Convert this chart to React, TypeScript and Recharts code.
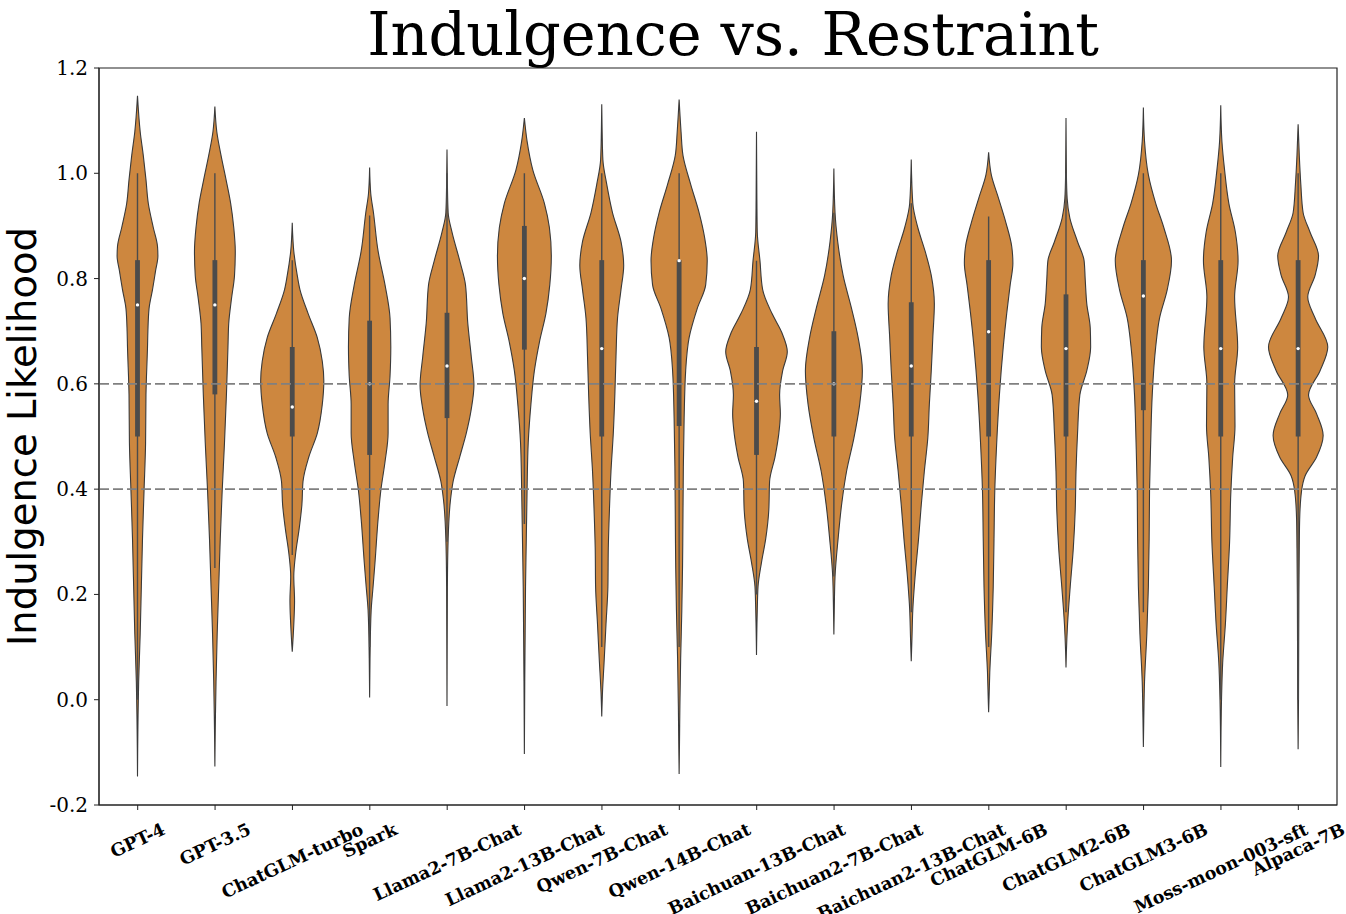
import { Bar, ComposedChart, Curve, ReferenceArea, ReferenceLine, XAxis, YAxis } from 'recharts'

const models = [
  'GPT-4',
  'GPT-3.5',
  'ChatGLM-turbo',
  'Spark',
  'Llama2-7B-Chat',
  'Llama2-13B-Chat',
  'Qwen-7B-Chat',
  'Qwen-14B-Chat',
  'Baichuan-13B-Chat',
  'Baichuan2-7B-Chat',
  'Baichuan2-13B-Chat',
  'ChatGLM-6B',
  'ChatGLM2-6B',
  'ChatGLM3-6B',
  'Moss-moon-003-sft',
  'Alpaca-7B',
]

// ends of each violin (kde tails)
const tipLow = [-0.146, -0.127, 0.091, 0.004, -0.012, -0.103, -0.032, -0.141, 0.085, 0.124, 0.073, -0.024, 0.061, -0.09, -0.128, -0.094]
const tipHigh = [1.147, 1.127, 0.906, 1.011, 1.045, 1.105, 1.131, 1.14, 1.079, 1.009, 1.026, 1.04, 1.105, 1.125, 1.129, 1.093]

// inner box
const q1 = [0.5, 0.58, 0.5, 0.465, 0.535, 0.665, 0.5, 0.52, 0.465, 0.5, 0.5, 0.5, 0.5, 0.55, 0.5, 0.5]
const medians = [0.75, 0.75, 0.556, 0.6, 0.634, 0.8, 0.667, 0.834, 0.567, 0.6, 0.634, 0.699, 0.667, 0.767, 0.667, 0.667]
const q3 = [0.835, 0.835, 0.67, 0.72, 0.735, 0.9, 0.835, 0.835, 0.67, 0.7, 0.755, 0.835, 0.77, 0.835, 0.835, 0.835]
const whiskerLow = [0.0, 0.25, 0.275, 0.1, 0.3, 0.334, 0.1, 0.1, 0.2, 0.234, 0.166, 0.1, 0.166, 0.166, 0.0, 0.0]
const whiskerHigh = [1.0, 1.0, 0.835, 0.92, 1.0, 1.0, 1.0, 1.0, 0.834, 0.925, 0.943, 0.918, 1.0, 1.0, 1.0, 1.0]

// density outline per model: [value, violin width in % of the category band]
const profiles: number[][][] = [
  [[1.079, 7], [1.034, 15], [0.988, 22], [0.943, 28], [0.897, 41], [0.861, 52], [0.843, 53], [0.815, 47], [0.779, 39], [0.743, 30], [0.7, 27], [0.67, 26], [0.579, 22], [0.488, 21], [0.397, 17], [0.306, 13], [0.215, 10], [0.125, 7], [0.034, 3], [-0.057, 1]],
  [[1.079, 5], [1.034, 16], [0.988, 29], [0.943, 41], [0.897, 49], [0.852, 53], [0.806, 51], [0.761, 43], [0.715, 36], [0.67, 34], [0.579, 30], [0.488, 25], [0.397, 19], [0.306, 14], [0.215, 10], [0.125, 6], [0.034, 3], [-0.057, 1]],
  [[0.852, 4], [0.806, 13], [0.779, 20], [0.734, 41], [0.688, 65], [0.643, 78], [0.606, 82], [0.561, 78], [0.506, 65], [0.461, 43], [0.415, 28], [0.37, 25], [0.325, 18], [0.279, 9], [0.234, 4], [0.188, 6], [0.143, 4]],
  [[0.961, 3], [0.925, 10], [0.852, 22], [0.788, 40], [0.725, 53], [0.67, 55], [0.615, 53], [0.561, 48], [0.506, 48], [0.452, 40], [0.397, 29], [0.343, 22], [0.261, 14], [0.215, 9], [0.17, 4], [0.079, 1]],
  [[0.98, 1], [0.925, 3], [0.888, 13], [0.834, 33], [0.788, 48], [0.715, 54], [0.652, 63], [0.597, 70], [0.552, 63], [0.506, 50], [0.461, 33], [0.415, 16], [0.379, 9], [0.306, 3], [0.215, 1]],
  [[1.061, 7], [1.006, 22], [0.943, 52], [0.897, 65], [0.843, 70], [0.788, 66], [0.734, 56], [0.679, 39], [0.625, 26], [0.561, 17], [0.488, 10], [0.397, 7], [0.306, 5], [0.215, 3], [0.125, 2], [0.034, 1]],
  [[1.08, 1], [1.025, 3], [0.979, 13], [0.925, 28], [0.87, 50], [0.825, 57], [0.779, 50], [0.725, 41], [0.652, 37], [0.579, 34], [0.506, 30], [0.434, 24], [0.361, 20], [0.288, 17], [0.215, 16], [0.143, 11], [0.07, 6], [0.015, 2]],
  [[1.079, 5], [1.034, 10], [0.979, 30], [0.925, 52], [0.879, 66], [0.834, 73], [0.788, 69], [0.743, 47], [0.688, 26], [0.625, 17], [0.534, 13], [0.443, 11], [0.352, 10], [0.261, 9], [0.17, 7], [0.079, 4], [-0.012, 2], [-0.08, 1]],
  [[0.95, 1], [0.888, 2], [0.834, 9], [0.779, 16], [0.734, 40], [0.697, 66], [0.661, 80], [0.625, 68], [0.579, 60], [0.543, 62], [0.506, 58], [0.461, 48], [0.415, 34], [0.361, 32], [0.306, 24], [0.261, 13], [0.215, 4], [0.17, 2]],
  [[0.925, 3], [0.87, 10], [0.806, 24], [0.743, 46], [0.688, 63], [0.625, 74], [0.561, 67], [0.497, 52], [0.434, 33], [0.37, 20], [0.306, 11], [0.234, 3], [0.17, 1]],
  [[0.943, 4], [0.897, 17], [0.852, 36], [0.806, 52], [0.752, 60], [0.688, 56], [0.625, 52], [0.561, 47], [0.497, 43], [0.434, 34], [0.37, 26], [0.306, 19], [0.234, 10], [0.17, 4], [0.12, 2]],
  [[0.997, 7], [0.952, 26], [0.906, 45], [0.861, 60], [0.829, 63], [0.788, 56], [0.734, 47], [0.67, 38], [0.579, 28], [0.488, 21], [0.397, 16], [0.306, 14], [0.215, 12], [0.125, 8], [0.052, 3], [0.0, 1]],
  [[1.0, 1], [0.952, 3], [0.915, 10], [0.87, 30], [0.834, 47], [0.797, 50], [0.752, 54], [0.706, 63], [0.67, 64], [0.625, 54], [0.579, 36], [0.506, 30], [0.434, 26], [0.361, 24], [0.288, 19], [0.215, 11], [0.143, 4], [0.09, 1]],
  [[1.061, 3], [0.997, 13], [0.943, 32], [0.897, 53], [0.834, 73], [0.779, 62], [0.725, 42], [0.67, 32], [0.579, 23], [0.488, 19], [0.397, 16], [0.306, 15], [0.215, 13], [0.125, 9], [0.034, 3], [-0.04, 1]],
  [[1.061, 3], [1.006, 10], [0.943, 21], [0.888, 38], [0.834, 45], [0.765, 36], [0.67, 44], [0.6, 36], [0.52, 37], [0.46, 31], [0.39, 26], [0.3, 23], [0.215, 17], [0.143, 12], [0.07, 5], [0.0, 2]],
  [[1.034, 3], [0.979, 7], [0.925, 13], [0.888, 31], [0.843, 53], [0.806, 44], [0.765, 25], [0.725, 44], [0.67, 77], [0.625, 57], [0.579, 27], [0.543, 48], [0.502, 65], [0.461, 48], [0.425, 18], [0.397, 9], [0.343, 4], [0.288, 3], [0.2, 2], [0.0, 1]],
]

const yTicks = [-0.2, 0.0, 0.2, 0.4, 0.6, 0.8, 1.0, 1.2]
const guideLines = [0.4, 0.6]

const FILL = '#cd873f'
const EDGE = '#3a3a3a'
const BOX = '#4b4b4b'
const X_FONT = 17.5

const rows = models.map((name, i) => ({ name, i, range: [tipLow[i], tipHigh[i]] }))

const ctx = typeof document !== 'undefined' ? document.createElement('canvas').getContext('2d') : null
function labelWidth(s: string) {
  if (!ctx) return s.length * 11.5
  ctx.font = `bold ${X_FONT}px "DejaVu Serif"`
  return ctx.measureText(s).width
}

function Violin(props: any) {
  const { x, y, width, height } = props
  const i = props.payload?.i ?? props.index
  const top = Math.min(y, y + height)
  const span = Math.abs(height)
  const hi = tipHigh[i]
  const lo = tipLow[i]
  const toY = (v: number) => top + ((hi - v) / (hi - lo)) * span
  const cx = x + width / 2
  const pts = [[hi, 0], ...profiles[i], [lo, 0]]
  const right = pts.map(([v, w]) => ({ x: cx + ((w / 100) * width) / 2, y: toY(v) }))
  const left = pts.map(([v, w]) => ({ x: cx - ((w / 100) * width) / 2, y: toY(v) }))
  return (
    <g>
      <Curve
        layout='vertical'
        type='monotone'
        points={right}
        baseLine={left}
        fill={FILL}
        stroke={EDGE}
        strokeWidth={1.1}
      />
      <line x1={cx} x2={cx} y1={toY(whiskerHigh[i])} y2={toY(whiskerLow[i])} stroke={BOX} strokeWidth={1.4} />
      <rect x={cx - 2.4} width={4.8} y={toY(q3[i])} height={toY(q1[i]) - toY(q3[i])} fill={BOX} />
      <circle cx={cx} cy={toY(medians[i])} r={1.7} fill='#ffffff' />
    </g>
  )
}

function ModelTick({ x, y, payload }: any) {
  const label = String(payload.value)
  const a = (25 * Math.PI) / 180
  const half = (labelWidth(label) / 2) * Math.sin(a) + X_FONT * 0.58 * Math.cos(a)
  const cy = y + 5 + half
  return (
    <text
      x={x}
      y={cy}
      textAnchor='middle'
      dominantBaseline='central'
      transform={`rotate(-25 ${x} ${cy})`}
      fontFamily='DejaVu Serif'
      fontWeight='bold'
      fontSize={X_FONT}
      fill='#000'
    >
      {label}
    </text>
  )
}

function ValueTick({ x, y, payload }: any) {
  return (
    <text x={x} y={y} textAnchor='end' dominantBaseline='central' fontFamily='DejaVu Serif' fontSize={20} fill='#000'>
      {Number(payload.value).toFixed(1)}
    </text>
  )
}

function AxisTitle({ viewBox }: any) {
  const cx = viewBox.x + 22
  const cy = viewBox.y + viewBox.height / 2
  return (
    <text
      x={cx}
      y={cy}
      textAnchor='middle'
      dominantBaseline='central'
      transform={`rotate(-90 ${cx} ${cy})`}
      fontFamily='DejaVu Sans'
      fontSize={38.5}
      fill='#000'
    >
      Indulgence Likelihood
    </text>
  )
}

export default function App() {
  return (
    <div style={{ position: 'absolute', left: 0, top: 0, width: 1346, height: 914, background: '#fff' }}>
      <div
        style={{
          position: 'absolute',
          left: 114,
          top: 5,
          width: 1238,
          textAlign: 'center',
          fontFamily: '"DejaVu Serif"',
          fontSize: 59,
          lineHeight: '59px',
          color: '#000',
          whiteSpace: 'nowrap',
        }}
      >
        Indulgence vs. Restraint
      </div>
      <ComposedChart
        width={1346}
        height={914}
        data={rows}
        margin={{ top: 68, right: 9, bottom: 0, left: 0 }}
        barCategoryGap={0}
      >
        <XAxis
          dataKey='name'
          interval={0}
          height={109}
          tickSize={5}
          tickMargin={4}
          tick={<ModelTick />}
          stroke='#222'
          tickLine={{ stroke: '#222' }}
        />
        <YAxis
          type='number'
          domain={[-0.2, 1.2]}
          ticks={yTicks}
          allowDataOverflow
          width={99}
          tickSize={5}
          tickMargin={6}
          tick={<ValueTick />}
          stroke='#222'
          label={<AxisTitle />}
        />
        <ReferenceArea y1={-0.2} y2={1.2} fill='none' stroke='#222' strokeWidth={1.2} />
        <Bar dataKey='range' shape={<Violin />} isAnimationActive={false} />
        {guideLines.map((g) => (
          <ReferenceLine key={g} y={g} stroke='#808080' strokeWidth={1.8} strokeDasharray='10 4' />
        ))}
      </ComposedChart>
    </div>
  )
}
